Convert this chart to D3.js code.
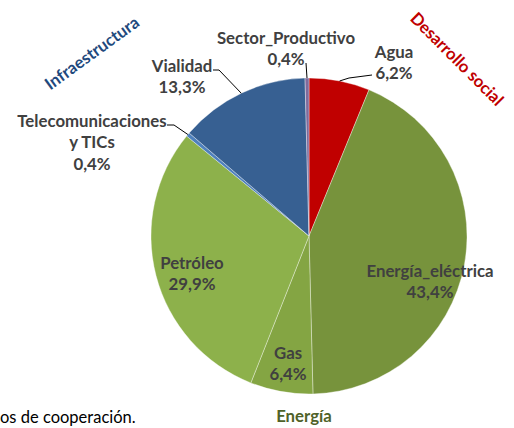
<!DOCTYPE html>
<html><head><meta charset="utf-8">
<script src="https://cdn.jsdelivr.net/npm/d3@7"></script>
<style>body{margin:0;background:#fff}svg{display:block}</style>
</head><body>
<script>
const categories = ["Agua","Energía_eléctrica","Gas","Petróleo","Telecomunicaciones y TICs","Vialidad","Sector_Productivo"];
const values = [6.2,43.4,6.4,29.9,0.4,13.3,0.4];
const percentLabels = ["6,2%","43,4%","6,4%","29,9%","0,4%","13,3%","0,4%"];
const colors = ["#C00000","#77933C","#84A543","#8DB14B","#4F81BD","#376092","#7F6B9C"];
const groups = [
  {text:"Infraestructura", color:"#1F497D"},
  {text:"Desarrollo social", color:"#C00000"},
  {text:"Energía", color:"#4F6228"}
];

const W=514,H=428, cx=309, cy=236, R=158;
const svg=d3.select("body").append("svg").attr("width",W).attr("height",H);
const font="Lato, 'Open Sans', sans-serif";
const FS=16.8;

const pie=d3.pie().sort(null).value(d=>d)(values);
const arc=d3.arc().innerRadius(0).outerRadius(R);
const g=svg.append("g").attr("transform",`translate(${cx},${cy})`);
g.selectAll("path").data(pie).join("path")
  .attr("d",arc).attr("fill",(d,i)=>colors[i])
  .attr("stroke","#ffffff").attr("stroke-opacity",0.45).attr("stroke-width",0.8);

const labelPos = [
  {x:394,y:52, lines:["Agua"]},
  {x:430,y:271, lines:["Energía_eléctrica"]},
  {x:288,y:353, lines:["Gas"]},
  {x:192,y:263, lines:["Petróleo"]},
  {x:92,y:121, lines:["Telecomunicaciones","y TICs"]},
  {x:182,y:66, lines:["Vialidad"]},
  {x:286,y:38, lines:["Sector_Productivo"]}
];
const leaders = [
  {i:0, pts:[[372,75],[349,78]]},
  {i:4, pts:[[167,125],[174,125]]},
  {i:5, pts:[[213,70],[219,70]]},
  {i:6, pts:[[306,63]]}
];
const line=d3.line();
leaders.forEach(L=>{
  const d=pie[L.i];
  const a=(d.startAngle+d.endAngle)/2;
  const edge=[cx+Math.sin(a)*R, cy-Math.cos(a)*R];
  svg.append("path").attr("d",line([...L.pts,edge]))
    .attr("fill","none").attr("stroke","#000").attr("stroke-width",1);
});

labelPos.forEach((p,i)=>{
  const lines=[...p.lines, percentLabels[i]];
  const t=svg.append("text").attr("font-family",font).attr("font-weight","bold")
    .attr("font-size",FS).attr("fill","#404040").attr("text-anchor","middle");
  lines.forEach((l,k)=>t.append("tspan").attr("x",p.x).attr("y",p.y+k*21.5).attr("dy","0.35em").text(l));
});

svg.append("text").attr("transform","translate(92,53) rotate(-36)")
  .attr("text-anchor","middle").attr("dy","0.35em")
  .attr("font-family",font).attr("font-weight","bold").attr("font-size",FS)
  .attr("fill",groups[0].color).text(groups[0].text);
svg.append("text").attr("transform","translate(457,59) rotate(45)")
  .attr("text-anchor","middle").attr("dy","0.35em")
  .attr("font-family",font).attr("font-weight","bold").attr("font-size",FS)
  .attr("fill",groups[1].color).text(groups[1].text);
svg.append("text").attr("x",304).attr("y",416).attr("dy","0.35em")
  .attr("text-anchor","middle")
  .attr("font-family",font).attr("font-weight","bold").attr("font-size",FS)
  .attr("fill",groups[2].color).text(groups[2].text);

svg.append("text").attr("x",0).attr("y",423).attr("font-family",font)
  .attr("font-size",16.5).attr("fill","#000").text("os de cooperación.");
</script>
</body></html>
